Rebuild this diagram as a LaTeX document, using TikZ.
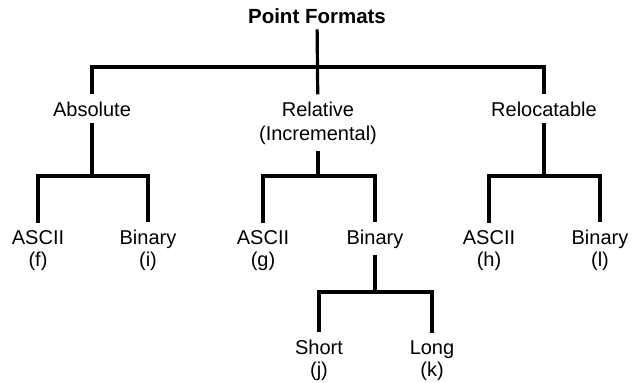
\documentclass[tikz,border=0pt]{standalone}
\usepackage{fontspec}
\setmainfont{Liberation Sans}
\usetikzlibrary{positioning}

\begin{document}
\begin{tikzpicture}[x=1pt,y=-1pt,
  fmt/.style={font=\fontsize{20}{22}\selectfont, align=center, anchor=base,
              inner xsep=2pt, inner ysep=7pt},
  title/.style={font=\fontsize{20.5}{23}\selectfont\bfseries, anchor=base, inner ysep=6pt},
  branch/.style={line width=3.2pt}]
  \useasboundingbox (0,0) rectangle (633,383);
  % top level
  \node[title] (root) at (317,23) {Point Formats};
  \node[fmt] (abs) at (92,116) {Absolute};
  \node[fmt] (rel) at (318,140) {Relative\\[2pt](Incremental)};
  \node[fmt] (reloc) at (544,116) {Relocatable};
  \coordinate (topj) at (318,67);
  \draw[branch] (root) -- (rel);
  \draw[branch] (abs) |- (topj) -| (reloc);
  % second level
  \node[fmt] (asciiF) at (38,266) {ASCII\\(f)};
  \node[fmt] (binI) at (148,266) {Binary\\(i)};
  \node[fmt] (asciiG) at (263,266) {ASCII\\(g)};
  \node[fmt] (binR) at (375,244) {Binary};
  \node[fmt] (asciiH) at (489,266) {ASCII\\(h)};
  \node[fmt] (binL) at (600,266) {Binary\\(l)};
  \coordinate (absj) at (92,176);
  \coordinate (relj) at (318,176);
  \coordinate (relocj) at (544,176);
  \draw[branch] (abs) -- (absj);
  \draw[branch] (asciiF) |- (absj) -| (binI);
  \draw[branch] (rel) -- (relj);
  \draw[branch] (asciiG) |- (relj) -| (binR);
  \draw[branch] (reloc) -- (relocj);
  \draw[branch] (asciiH) |- (relocj) -| (binL);
  % third level
  \node[fmt] (short) at (319,376) {Short\\(j)};
  \node[fmt] (long) at (432,376) {Long\\(k)};
  \coordinate (binj) at (375,292);
  \draw[branch] (binR) -- (binj);
  \draw[branch] (short) |- (binj) -| (long);
\end{tikzpicture}
\end{document}
